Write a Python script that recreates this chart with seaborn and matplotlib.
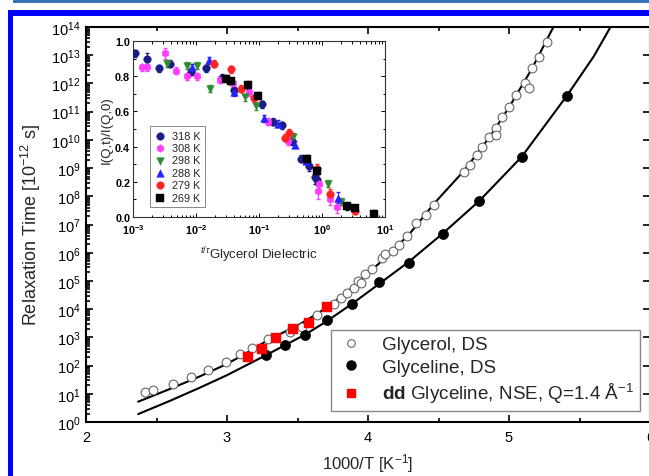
import numpy as np
import pandas as pd
import matplotlib
matplotlib.use("Agg")
import matplotlib.pyplot as plt
import seaborn as sns
from matplotlib.patches import Rectangle
from matplotlib.lines import Line2D
from matplotlib.ticker import LogLocator, NullFormatter, MultipleLocator, FixedLocator

# ---------------- main panel data (x = 1000/T, log10 of tau) ----------------
glycerol_x = [2.417, 2.476, 2.617, 2.747, 2.864, 2.99, 3.09, 3.18, 3.29, 3.45, 3.53, 3.64,
              3.76, 3.81, 3.85, 3.90, 3.93, 3.95, 3.98, 4.03, 4.10, 4.12, 4.18, 4.22, 4.28,
              4.34, 4.41, 4.47, 4.68, 4.72, 4.77, 4.81, 4.86, 4.91, 4.91, 4.95, 5.00, 5.05,
              5.11, 5.14, 5.16, 5.21, 5.27]
glycerol_logtau = [1.07, 1.14, 1.34, 1.61, 1.85, 2.13, 2.40, 2.64, 2.93, 3.20, 3.38, 3.78,
                   4.17, 4.41, 4.58, 4.76, 4.99, 4.91, 5.23, 5.41, 5.82, 5.94, 6.05, 6.29, 6.58,
                   7.07, 7.35, 7.70, 8.87, 9.12, 9.47, 9.75, 10.11, 10.42, 10.18, 10.81, 11.17,
                   11.59, 12.01, 11.84, 12.54, 12.93, 13.46]

glyceline_x = [3.277, 3.41, 3.555, 3.71, 3.89, 4.08, 4.29, 4.53, 4.79, 5.09, 5.41]
glyceline_logtau = [2.37, 2.72, 3.07, 3.62, 4.19, 4.96, 5.65, 6.68, 7.84, 9.40, 11.56]

nse_x = [3.147, 3.25, 3.35, 3.47, 3.58, 3.71]
nse_logtau = [2.31, 2.58, 2.96, 3.31, 3.50, 4.07]

# fitted curves
fit_glycerol_x = [2.37, 2.6, 2.8, 2.97, 3.1, 3.3, 3.5, 3.654, 3.8, 3.94, 4.1, 4.29, 4.47,
                  4.68, 4.86, 5.0, 5.16, 5.31, 5.35]
fit_glycerol_logtau = [0.72, 1.18, 1.60, 1.99, 2.33, 2.93, 3.42, 3.88, 4.40, 4.99, 5.72, 6.64,
                       7.75, 8.90, 10.08, 11.15, 12.50, 13.95, 14.35]
fit_glyceline_x = [2.37, 2.6, 2.8, 3.0, 3.25, 3.41, 3.555, 3.71, 3.89, 4.08, 4.29, 4.53,
                   4.79, 5.09, 5.41, 5.6, 5.72, 5.76]
fit_glyceline_logtau = [0.28, 0.76, 1.20, 1.66, 2.30, 2.72, 3.10, 3.58, 4.20, 4.90, 5.68,
                        6.68, 7.84, 9.40, 11.56, 12.95, 14.0, 14.35]

legend_labels = ["Glycerol, DS", "Glyceline, DS",
                 r"$\mathbf{dd}$ Glyceline, NSE, Q=1.4 Å$^{-1}$"]

# ---------------- inset data (log10 t/tau, I(Q,t)/I(Q,0)) ----------------
inset_labels = ["318 K", "308 K", "298 K", "288 K", "279 K", "269 K"]
inset_colors = ["#1c1c86", "#ff3cff", "#2e8b2e", "#2323ff", "#ff2323", "#000000"]
inset_markers = ["o", "h", "v", "^", "o", "s"]

t318 = [-2.97, -2.78, -2.59, -2.41, -2.08, -1.84, -1.58, -1.39, -0.95, -0.77, -0.64, -0.48, -0.33, -0.20, -0.11, -0.08]
i318 = [0.93, 0.90, 0.845, 0.87, 0.825, 0.845, 0.79, 0.72, 0.64, 0.54, 0.52, 0.43, 0.33, 0.29, 0.23, 0.21]
e318 = [0.02, 0.03, 0.02, 0.02, 0.02, 0.02, 0.02, 0.02, 0.02, 0.02, 0.02, 0.02, 0.02, 0.03, 0.04, 0.03]

t308 = [-2.86, -2.78, -2.50, -2.32, -2.14, -1.99, -1.62, -1.42, -1.16, -0.86, -0.54, -0.04, -0.06, 0.13, 0.24]
i308 = [0.85, 0.85, 0.93, 0.83, 0.80, 0.80, 0.78, 0.76, 0.71, 0.54, 0.43, 0.19, 0.15, 0.10, 0.055]
e308 = [0.02, 0.02, 0.03, 0.02, 0.02, 0.02, 0.02, 0.02, 0.02, 0.02, 0.02, 0.03, 0.05, 0.03, 0.03]

t298 = [-2.46, -2.14, -1.98, -1.78, -1.23, -1.05, -0.46, 0.10, 0.30]
i298 = [0.87, 0.86, 0.86, 0.73, 0.68, 0.63, 0.455, 0.19, 0.087]
e298 = [0.02, 0.02, 0.02, 0.02, 0.02, 0.02, 0.02, 0.02, 0.02]

t288 = [-2.06, -1.79, -1.39, -0.92, -0.70, -0.43, -0.25, 0.25]
i288 = [0.85, 0.89, 0.71, 0.56, 0.53, 0.41, 0.32, 0.11]
e288 = [0.02, 0.02, 0.02, 0.02, 0.02, 0.02, 0.02, 0.03]

t279 = [-1.72, -1.45, -1.28, -1.08, -0.58, -0.52, -0.08, 0.12, 0.52]
i279 = [0.87, 0.84, 0.73, 0.675, 0.45, 0.48, 0.27, 0.13, 0.036]
e279 = [0.02, 0.02, 0.02, 0.02, 0.02, 0.02, 0.03, 0.03, 0.02]

t269 = [-1.52, -1.45, -1.18, -1.02, -0.24, -0.08, 0.39, 0.52, 0.83]
i269 = [0.785, 0.77, 0.75, 0.69, 0.33, 0.26, 0.06, 0.049, 0.017]
e269 = [0.02, 0.02, 0.02, 0.02, 0.02, 0.03, 0.02, 0.02, 0.02]

inset_t = [t318, t308, t298, t288, t279, t269]
inset_i = [i318, i308, i298, i288, i279, i269]
inset_e = [e318, e308, e298, e288, e279, e269]

# ---------------- styling ----------------
sns.set_theme(style="ticks")
plt.rcParams["font.family"] = ["Liberation Sans", "DejaVu Sans"]
plt.rcParams["mathtext.fontset"] = "custom"
plt.rcParams["mathtext.rm"] = "Liberation Sans"
plt.rcParams["mathtext.it"] = "Liberation Sans:italic"
plt.rcParams["mathtext.bf"] = "Liberation Sans:bold"
plt.rcParams["axes.unicode_minus"] = False

W, H = 649, 477
fig = plt.figure(figsize=(W / 100, H / 100), dpi=100)
fig.patch.set_facecolor("white")

# blue frame decoration
fig.add_artist(Rectangle((13 / W, (H - 4) / H), 1, 3 / H, transform=fig.transFigure,
                         facecolor="#3c74ba", edgecolor="none", zorder=20))
fig.add_artist(Rectangle((8 / W, (H - 17) / H), 1, 6 / H, transform=fig.transFigure,
                         facecolor="#0000ff", edgecolor="none", zorder=20))
fig.add_artist(Rectangle((8 / W, 0), 5 / W, (H - 11) / H, transform=fig.transFigure,
                         facecolor="#0000ff", edgecolor="none", zorder=20))

# ---------------- main axes ----------------
ax = fig.add_axes([86 / W, (H - 423) / H, 564 / W, 395 / H])
ax.set_yscale("log")

sns.lineplot(x=fit_glycerol_x, y=10 ** np.array(fit_glycerol_logtau), ax=ax, color="black",
             lw=1.5, sort=False, zorder=2)
sns.lineplot(x=fit_glyceline_x, y=10 ** np.array(fit_glyceline_logtau), ax=ax, color="black",
             lw=1.5, sort=False, zorder=2)

df_gly = pd.DataFrame({"x": glycerol_x, "tau": 10 ** np.array(glycerol_logtau)})
df_glyc = pd.DataFrame({"x": glyceline_x, "tau": 10 ** np.array(glyceline_logtau)})
df_nse = pd.DataFrame({"x": nse_x, "tau": 10 ** np.array(nse_logtau)})

sns.scatterplot(data=df_gly, x="x", y="tau", ax=ax, marker="o", s=40, color="white",
                edgecolor="#666666", linewidth=0.8, zorder=3)
sns.scatterplot(data=df_glyc, x="x", y="tau", ax=ax, marker="o", s=52, color="black",
                edgecolor="black", linewidth=0.5, zorder=3)
sns.scatterplot(data=df_nse, x="x", y="tau", ax=ax, marker="s", s=42, color="#ff0000",
                edgecolor="#ff0000", linewidth=0.3, zorder=4)

ax.set_xlim(2, 6)
ax.set_ylim(1, 1e14)
ax.xaxis.set_major_locator(FixedLocator([2, 3, 4, 5, 6]))
ax.xaxis.set_minor_locator(MultipleLocator(0.5))
ax.yaxis.set_major_locator(LogLocator(base=10, numticks=20))
ax.yaxis.set_minor_locator(LogLocator(base=10, subs=np.arange(2, 10), numticks=200))
ax.yaxis.set_minor_formatter(NullFormatter())
ax.tick_params(which="both", direction="in", top=True, right=True, labelsize=10.5,
               width=1.2, colors="black")
ax.tick_params(which="major", length=5)
ax.tick_params(which="minor", length=3, right=False)
ax.tick_params(axis="x", pad=6)
ax.tick_params(axis="y", pad=4)
for sp in ax.spines.values():
    sp.set_linewidth(1.5)
    sp.set_color("black")
ax.set_xlabel(r"1000/T [K$^{-1}$]", fontsize=12, labelpad=5)
ax.set_ylabel(r"Relaxation Time [10$^{-12}$ s]", fontsize=13, labelpad=6)

handles = [
    Line2D([], [], ls="none", marker="o", ms=5.5, mfc="white", mec="#666666", mew=0.8),
    Line2D([], [], ls="none", marker="o", ms=6.5, mfc="black", mec="black"),
    Line2D([], [], ls="none", marker="s", ms=5.5, mfc="#ff0000", mec="#ff0000"),
]
leg = ax.legend(handles, legend_labels, loc="lower right", bbox_to_anchor=(0.982, 0.028),
                fontsize=13.6, frameon=True, fancybox=False, edgecolor="#888888",
                framealpha=1, borderpad=0.3, labelspacing=0.28, handletextpad=0.9,
                handlelength=1.5, borderaxespad=0)
leg.get_frame().set_linewidth(1.0)

# ---------------- inset ----------------
axin = fig.add_axes([133 / W, (H - 218) / H, 252 / W, 176 / H])
axin.set_xscale("log")
for t, i, e, lab, col, mk in zip(inset_t, inset_i, inset_e, inset_labels, inset_colors, inset_markers):
    tt = 10 ** np.array(t)
    axin.errorbar(tt, i, yerr=e, fmt="none", ecolor=col, elinewidth=0.8, capsize=1.2, zorder=2)
    sns.scatterplot(x=tt, y=i, ax=axin, marker=mk, s=30, color=col, edgecolor=col,
                    linewidth=0.3, label=lab, zorder=3)

axin.set_xlim(1e-3, 1e1)
axin.set_ylim(0, 1.0)
axin.yaxis.set_major_locator(MultipleLocator(0.2))
axin.yaxis.set_minor_locator(MultipleLocator(0.1))
axin.xaxis.set_major_locator(LogLocator(base=10, numticks=10))
axin.xaxis.set_minor_locator(LogLocator(base=10, subs=np.arange(2, 10), numticks=100))
axin.xaxis.set_minor_formatter(NullFormatter())
axin.yaxis.set_major_formatter(matplotlib.ticker.FormatStrFormatter("%.1f"))
axin.tick_params(which="both", direction="in", top=True, right=True, labelsize=7.8,
                 width=0.7, colors="black")
axin.tick_params(axis="y", pad=2)
axin.tick_params(axis="x", pad=4)
axin.tick_params(which="major", length=3)
axin.tick_params(which="minor", length=1.8)
for lbl in axin.get_xticklabels() + axin.get_yticklabels():
    lbl.set_fontweight("bold")
for sp in axin.spines.values():
    sp.set_linewidth(0.8)
    sp.set_color("#333333")
axin.set_ylabel("I(Q,t)/I(Q,0)", fontsize=9.5, labelpad=2)
axin.set_xlabel(r"$^{t/\tau}$Glycerol Dielectric", fontsize=9.5, labelpad=6)
lg = axin.legend(loc="lower left", bbox_to_anchor=(0.067, 0.057), fontsize=7.8, frameon=True,
                 fancybox=False, edgecolor="#888888", framealpha=1, borderpad=0.4,
                 labelspacing=0.22, handletextpad=0.6, handlelength=1.0, borderaxespad=0,
                 markerscale=1.0)
lg.get_frame().set_linewidth(0.7)

fig.savefig("out.png", dpi=100, facecolor="white")
